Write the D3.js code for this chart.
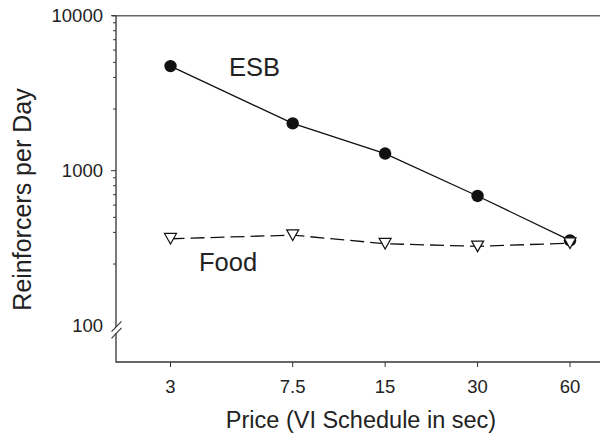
<!DOCTYPE html>
<html>
<head>
  <title>Reinforcers per Day</title>
  <meta charset="utf-8">
  <script src="https://d3js.org/d3.v7.min.js"></script>
  <style>
    body { margin: 0; background: #fff; }
    text { font-family: "Liberation Sans", Arial, sans-serif; fill: #222; }
  </style>
  <script type="text/javascript">
    /*
      Data
    */
    var prices = [3, 7.5, 15, 30, 60];
    var esbValues = [4730, 2020, 1290, 687, 355];
    var foodValues = [364, 384, 338, 325, 341];
    var yTickValues = [100, 1000, 10000];
    var yMinorTicks = [250, 400, 500, 600, 700, 800, 900,
                       2500, 4000, 5000, 6000, 7000, 8000, 9000];
    var seriesNames = ["ESB", "Food"];
  </script>
</head>
<body>
  <script type="text/javascript">
    "use strict";
    var width = 600,
        height = 440,
        axisLeft = 116,
        axisBottom = 362,
        axisTop = 15.7;

    var svg = d3.select("body")
      .append("svg")
        .attr("width", width)
        .attr("height", height);

    var x = d3.scaleLog()
        .domain([3, 60])
        .range([170.5, 570]);

    var y = d3.scaleLog()
        .domain([100, 10000])
        .range([325.7, axisTop]);

    /*
      Axes
    */
    // top frame line
    svg.append("line")
        .attr("x1", axisLeft - 4).attr("x2", width)
        .attr("y1", axisTop).attr("y2", axisTop)
        .style("stroke", "#666")
        .style("stroke-width", 1.6);

    // x axis
    var xAxis = svg.append("g")
        .attr("transform", "translate(0," + axisBottom + ")");
    xAxis.append("line")
        .attr("x1", axisLeft).attr("x2", width)
        .style("stroke", "#333")
        .style("stroke-width", 1.3);
    xAxis.selectAll(".xtick")
        .data(prices)
        .enter()
        .append("line")
          .attr("x1", function (d) { return x(d); })
          .attr("x2", function (d) { return x(d); })
          .attr("y1", 0).attr("y2", 5)
          .style("stroke", "#333");
    xAxis.selectAll(".xlabel")
        .data(prices)
        .enter()
        .append("text")
          .attr("x", function (d) { return x(d); })
          .attr("y", 31)
          .attr("text-anchor", "middle")
          .style("font-size", "18.5px")
          .text(function (d) { return d; });

    // y axis with break near the bottom
    var yAxis = svg.append("g");
    yAxis.append("line")
        .attr("x1", axisLeft).attr("x2", axisLeft)
        .attr("y1", axisTop).attr("y2", 327)
        .style("stroke", "#333")
        .style("stroke-width", 1.3);
    yAxis.append("line")
        .attr("x1", axisLeft).attr("x2", axisLeft)
        .attr("y1", 333).attr("y2", axisBottom + 0.6)
        .style("stroke", "#333")
        .style("stroke-width", 1.3);
    [0, 6.6].forEach(function (off) {
      yAxis.append("line")
          .attr("x1", 111.5).attr("y1", 331.7 + off)
          .attr("x2", 121.5).attr("y2", 321.3 + off)
          .style("stroke", "#333")
          .style("stroke-width", 1.1);
    });
    yAxis.selectAll(".ytick")
        .data(yTickValues.filter(function (d) { return d > 100; }))
        .enter()
        .append("line")
          .attr("x1", axisLeft - 5).attr("x2", axisLeft)
          .attr("y1", function (d) { return y(d); })
          .attr("y2", function (d) { return y(d); })
          .style("stroke", "#333");
    yAxis.selectAll(".yminor")
        .data(yMinorTicks)
        .enter()
        .append("line")
          .attr("x1", axisLeft - 3).attr("x2", axisLeft)
          .attr("y1", function (d) { return y(d); })
          .attr("y2", function (d) { return y(d); })
          .style("stroke", "#333");
    yAxis.selectAll(".ylabel")
        .data(yTickValues)
        .enter()
        .append("text")
          .attr("x", 103)
          .attr("y", function (d) { return y(d); })
          .attr("dy", "0.34em")
          .attr("text-anchor", "end")
          .style("font-size", "18.5px")
          .text(function (d) { return d; });

    // axis titles
    svg.append("text")
        .attr("x", 361)
        .attr("y", 427.5)
        .attr("text-anchor", "middle")
        .style("font-size", "23.5px")
        .text("Price (VI Schedule in sec)");
    svg.append("text")
        .attr("transform", "translate(31,199.5) rotate(-90)")
        .attr("text-anchor", "middle")
        .style("font-size", "25px")
        .text("Reinforcers per Day");

    /*
      Series
    */
    var line = d3.line()
        .x(function (d) { return x(d[0]); })
        .y(function (d) { return y(d[1]); });

    var esb = d3.zip(prices, esbValues);
    var food = d3.zip(prices, foodValues);

    svg.append("path")
        .datum(esb)
        .attr("d", line)
        .style("fill", "none")
        .style("stroke", "#111")
        .style("stroke-width", 1.3);

    svg.selectAll(".esb")
        .data(esb)
        .enter()
        .append("circle")
          .attr("cx", function (d) { return x(d[0]); })
          .attr("cy", function (d) { return y(d[1]); })
          .attr("r", 6.2)
          .style("fill", "#111");

    svg.append("path")
        .datum(food)
        .attr("d", line)
        .style("fill", "none")
        .style("stroke", "#111")
        .style("stroke-width", 1.3)
        .style("stroke-dasharray", "14,6");

    svg.selectAll(".food")
        .data(food)
        .enter()
        .append("path")
          .attr("transform", function (d) {
            return "translate(" + x(d[0]) + "," + y(d[1]) + ")";
          })
          .attr("d", "M-6,-5.3L6,-5.3L0,5.3Z")
          .style("fill", "#fff")
          .style("stroke", "#111")
          .style("stroke-width", 1.2);

    // series labels
    svg.append("text")
        .attr("x", 229)
        .attr("y", 76)
        .style("font-size", "25.5px")
        .text(seriesNames[0]);
    svg.append("text")
        .attr("x", 199)
        .attr("y", 271)
        .style("font-size", "25.5px")
        .text(seriesNames[1]);
  </script>
</body>
</html>
